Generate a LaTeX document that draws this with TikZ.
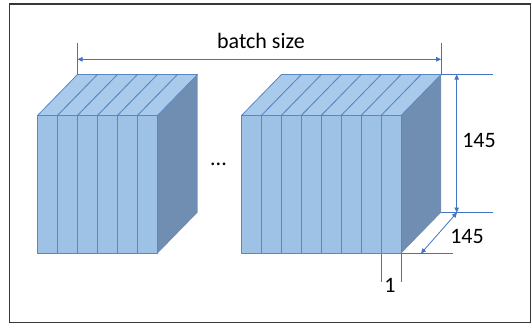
\documentclass[tikz,border=0pt]{standalone}
\usepackage{fontspec}
\setmainfont{Carlito}
\usetikzlibrary{arrows.meta}

\definecolor{sliceFront}{RGB}{157,194,230}
\definecolor{sliceTop}{RGB}{170,202,235}
\definecolor{sliceSide}{RGB}{112,142,178}
\definecolor{sliceEdge}{RGB}{88,136,196}
\definecolor{dimBlue}{RGB}{68,114,196}
\definecolor{frameGray}{RGB}{55,55,55}

\tikzset{
  slabface/.style={draw=sliceEdge, line width=0.8pt, line join=round},
  dimline/.style={draw=dimBlue, line width=0.8pt},
  dimarrow/.style={dimline, {Triangle[length=5pt,width=4.5pt]}-{Triangle[length=5pt,width=4.5pt]}},
  dimtext/.style={font=\fontsize{22}{26}\selectfont, inner sep=0pt, text=black},
}

% stack of thin slabs: #1 = left x, #2 = number of slabs, #3 = slab width
\newcommand{\slabstack}[3]{%
  \pgfmathsetmacro{\xend}{#1+#2*#3}
  % shaded side face
  \fill[sliceSide] (\xend,115.5) -- (\xend+40,74.5) -- (\xend+40,212.5) -- (\xend,253.5) -- cycle;
  % top faces
  \foreach \i in {1,...,#2}{
    \pgfmathsetmacro{\xa}{#1+(\i-1)*#3}
    \pgfmathsetmacro{\xb}{#1+\i*#3}
    \draw[slabface, fill=sliceTop] (\xa,115.5) -- (\xa+40,74.5) -- (\xb+40,74.5) -- (\xb,115.5) -- cycle;
  }
  % front faces
  \foreach \i in {1,...,#2}{
    \pgfmathsetmacro{\xa}{#1+(\i-1)*#3}
    \pgfmathsetmacro{\xb}{#1+\i*#3}
    \draw[slabface, fill=sliceFront] (\xa,115.5) rectangle (\xb,253.5);
  }
}

\begin{document}
\begin{tikzpicture}[x=1pt,y=-1pt]
\useasboundingbox (0,0) rectangle (532,324);
\draw[frameGray, line width=1.4pt] (9.5,4) rectangle (530.5,322.5);

% the two stacks
\slabstack{37.5}{6}{20}
\slabstack{241.5}{8}{19.95}

\node[dimtext, anchor=base] (dots) at (218.5,165) {...};

% reference corners of the stacks
\coordinate (Lbtl) at (77.5,74.5);
\coordinate (Rbtr) at (441.1,74.5);
\coordinate (Rbbr) at (441.1,212.5);
\coordinate (Rfbr) at (401.1,253.5);
\coordinate (Rfb7) at (381.15,253.5);

% batch size
\coordinate (bsL) at (77.5,43);
\coordinate (bsR) at (441.1,43);
\coordinate (bsA) at (77.5,59.3);
\coordinate (bsB) at (441.1,59.3);
\draw[dimline] (Lbtl) -- (bsL);
\draw[dimline] (Rbtr) -- (bsR);
\draw[dimarrow] (bsA) -- (bsB);
\node[dimtext, anchor=base] (bstext) at (261,48) {batch size};

% height
\coordinate (hT) at (493,74.5);
\coordinate (hB) at (493,212.5);
\coordinate (hA) at (456.7,74.5);
\coordinate (hZ) at (456.7,212.5);
\draw[dimline] (Rbtr) -- (hT);
\draw[dimline] (Rbbr) -- (hB);
\draw[dimarrow] (hA) -- (hZ);
\node[dimtext, anchor=base] (htext) at (479,147.5) {145};

% depth
\coordinate (dE) at (453,253.5);
\coordinate (dA) at (421,253.5);
\coordinate (dZ) at (457,212.5);
\draw[dimline] (Rfbr) -- (dE);
\draw[dimarrow] (dA) -- (dZ);
\node[dimtext, anchor=base] (dtext) at (467,243) {145};

% slab thickness
\coordinate (tA) at (381.15,282);
\coordinate (tB) at (401.1,282);
\draw[dimline] (Rfb7) -- (tA);
\draw[dimline] (Rfbr) -- (tB);
\node[dimtext, anchor=base] (ttext) at (390,292) {1};
\end{tikzpicture}
\end{document}
